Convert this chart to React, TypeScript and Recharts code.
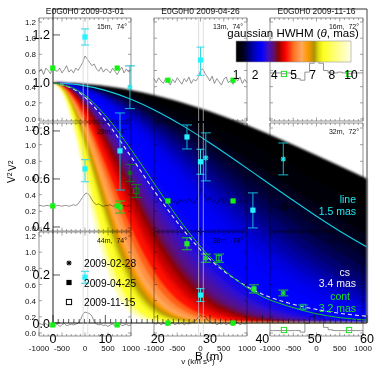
import { ComposedChart, Area, Line, Scatter, ErrorBar, XAxis, YAxis, ReferenceLine, ReferenceArea } from 'recharts';

const WIDTH = 382;
const HEIGHT = 372;
const FONT = '"Liberation Sans", Arial, sans-serif';

// baselines (m) shared by every gaussian curve of the colour map
const MAP_B = [0, 2, 4, 6, 8, 10, 12, 14, 16, 18, 20, 23, 26, 30, 35, 40, 45, 50, 55, 60];

const HWHM_1_0 = [1, 0.999, 0.998, 0.995, 0.991, 0.986, 0.98, 0.973, 0.964, 0.955, 0.945, 0.928, 0.908, 0.88, 0.84, 0.797, 0.75, 0.701, 0.651, 0.6];
const HWHM_1_2 = [1, 0.999, 0.997, 0.993, 0.987, 0.98, 0.971, 0.961, 0.949, 0.936, 0.921, 0.897, 0.871, 0.832, 0.778, 0.721, 0.661, 0.6, 0.539, 0.479];
const HWHM_1_4 = [1, 0.999, 0.996, 0.99, 0.982, 0.973, 0.961, 0.947, 0.931, 0.914, 0.895, 0.863, 0.829, 0.778, 0.711, 0.641, 0.569, 0.499, 0.431, 0.367];
const HWHM_1_5 = [1, 0.999, 0.995, 0.989, 0.98, 0.969, 0.955, 0.939, 0.921, 0.902, 0.88, 0.845, 0.806, 0.75, 0.676, 0.6, 0.524, 0.45, 0.38, 0.317];
const HWHM_1_6 = [1, 0.999, 0.994, 0.987, 0.977, 0.964, 0.949, 0.931, 0.911, 0.889, 0.865, 0.825, 0.782, 0.721, 0.641, 0.559, 0.479, 0.403, 0.333, 0.27];
const HWHM_1_7 = [1, 0.998, 0.993, 0.985, 0.974, 0.96, 0.943, 0.923, 0.9, 0.875, 0.849, 0.805, 0.758, 0.691, 0.605, 0.519, 0.436, 0.358, 0.289, 0.228];
const HWHM_1_8 = [1, 0.998, 0.993, 0.984, 0.971, 0.955, 0.936, 0.914, 0.889, 0.861, 0.832, 0.784, 0.733, 0.661, 0.569, 0.479, 0.394, 0.317, 0.249, 0.191];
const HWHM_1_9 = [1, 0.998, 0.992, 0.982, 0.968, 0.95, 0.929, 0.904, 0.877, 0.847, 0.815, 0.762, 0.707, 0.63, 0.534, 0.44, 0.354, 0.278, 0.212, 0.158];
const HWHM_2_0 = [1, 0.998, 0.991, 0.98, 0.964, 0.945, 0.921, 0.895, 0.865, 0.832, 0.797, 0.74, 0.681, 0.6, 0.499, 0.403, 0.317, 0.242, 0.179, 0.129];
const HWHM_2_1 = [1, 0.997, 0.99, 0.978, 0.961, 0.939, 0.914, 0.885, 0.852, 0.816, 0.778, 0.718, 0.655, 0.569, 0.464, 0.367, 0.281, 0.209, 0.15, 0.105];
const HWHM_2_2 = [1, 0.997, 0.989, 0.976, 0.957, 0.934, 0.906, 0.874, 0.839, 0.8, 0.76, 0.695, 0.628, 0.539, 0.431, 0.333, 0.249, 0.179, 0.125, 0.084];
const HWHM_2_3 = [1, 0.997, 0.988, 0.973, 0.953, 0.928, 0.897, 0.863, 0.825, 0.784, 0.74, 0.672, 0.602, 0.509, 0.398, 0.301, 0.218, 0.153, 0.103, 0.067];
const HWHM_2_4 = [1, 0.997, 0.987, 0.971, 0.949, 0.921, 0.889, 0.852, 0.811, 0.767, 0.721, 0.649, 0.575, 0.479, 0.367, 0.27, 0.191, 0.129, 0.084, 0.053];
const HWHM_2_6 = [1, 0.996, 0.985, 0.966, 0.94, 0.908, 0.871, 0.829, 0.782, 0.733, 0.681, 0.602, 0.523, 0.422, 0.309, 0.215, 0.143, 0.091, 0.055, 0.032];
const HWHM_2_8 = [1, 0.996, 0.982, 0.961, 0.931, 0.895, 0.852, 0.804, 0.752, 0.697, 0.641, 0.555, 0.471, 0.367, 0.256, 0.169, 0.105, 0.062, 0.034, 0.018];
const HWHM_3_0 = [1, 0.995, 0.98, 0.955, 0.921, 0.88, 0.832, 0.778, 0.721, 0.661, 0.6, 0.509, 0.422, 0.317, 0.209, 0.129, 0.075, 0.041, 0.021, 0.01];
const HWHM_3_2 = [1, 0.994, 0.977, 0.949, 0.911, 0.865, 0.811, 0.752, 0.689, 0.624, 0.559, 0.463, 0.374, 0.27, 0.168, 0.098, 0.053, 0.026, 0.012, 0.005];
const HWHM_3_4 = [1, 0.993, 0.974, 0.943, 0.9, 0.849, 0.789, 0.725, 0.657, 0.587, 0.518, 0.42, 0.33, 0.228, 0.134, 0.072, 0.036, 0.016, 0.007, 0.003];
const HWHM_3_6 = [1, 0.993, 0.971, 0.936, 0.889, 0.832, 0.767, 0.697, 0.624, 0.551, 0.479, 0.378, 0.288, 0.191, 0.105, 0.053, 0.024, 0.01, 0.004, 0.001];
const HWHM_3_8 = [1, 0.992, 0.968, 0.929, 0.877, 0.815, 0.744, 0.669, 0.592, 0.515, 0.44, 0.338, 0.25, 0.158, 0.081, 0.038, 0.016, 0.006, 0.002, 0.001];
const HWHM_4_0 = [1, 0.991, 0.964, 0.921, 0.865, 0.797, 0.721, 0.641, 0.559, 0.479, 0.403, 0.301, 0.215, 0.129, 0.062, 0.026, 0.01, 0.003, 0.001, 0];
const HWHM_4_15 = [1, 0.99, 0.962, 0.916, 0.855, 0.783, 0.703, 0.619, 0.535, 0.453, 0.376, 0.274, 0.192, 0.111, 0.05, 0.02, 0.007, 0.002, 0, 0];
const HWHM_4_3 = [1, 0.99, 0.959, 0.91, 0.845, 0.769, 0.685, 0.598, 0.511, 0.427, 0.35, 0.249, 0.169, 0.094, 0.04, 0.015, 0.005, 0.001, 0, 0];
const HWHM_4_45 = [1, 0.989, 0.956, 0.904, 0.835, 0.755, 0.667, 0.576, 0.487, 0.402, 0.325, 0.226, 0.149, 0.08, 0.032, 0.011, 0.003, 0.001, 0, 0];
const HWHM_4_6 = [1, 0.988, 0.953, 0.897, 0.825, 0.74, 0.649, 0.555, 0.463, 0.378, 0.301, 0.204, 0.131, 0.067, 0.025, 0.008, 0.002, 0.001, 0, 0];
const HWHM_4_8 = [1, 0.987, 0.949, 0.889, 0.811, 0.721, 0.624, 0.527, 0.433, 0.346, 0.27, 0.177, 0.109, 0.053, 0.018, 0.005, 0.001, 0, 0, 0];
const HWHM_5_0 = [1, 0.986, 0.945, 0.88, 0.797, 0.701, 0.6, 0.499, 0.403, 0.317, 0.242, 0.153, 0.091, 0.041, 0.013, 0.003, 0.001, 0, 0, 0];
const HWHM_5_4 = [1, 0.984, 0.936, 0.861, 0.767, 0.661, 0.551, 0.444, 0.346, 0.261, 0.191, 0.112, 0.061, 0.024, 0.006, 0.001, 0, 0, 0, 0];
const HWHM_5_8 = [1, 0.981, 0.926, 0.842, 0.737, 0.62, 0.503, 0.392, 0.294, 0.213, 0.148, 0.08, 0.04, 0.014, 0.003, 0, 0, 0, 0, 0];
const HWHM_6_2 = [1, 0.978, 0.916, 0.822, 0.705, 0.579, 0.456, 0.343, 0.247, 0.171, 0.113, 0.056, 0.025, 0.007, 0.001, 0, 0, 0, 0, 0];
const HWHM_6_6 = [1, 0.976, 0.906, 0.8, 0.673, 0.539, 0.41, 0.297, 0.205, 0.135, 0.084, 0.038, 0.015, 0.004, 0, 0, 0, 0, 0, 0];
const HWHM_6_8 = [1, 0.974, 0.9, 0.789, 0.657, 0.519, 0.388, 0.276, 0.186, 0.119, 0.072, 0.031, 0.012, 0.003, 0, 0, 0, 0, 0, 0];
const HWHM_7_0 = [1, 0.973, 0.895, 0.778, 0.641, 0.499, 0.367, 0.256, 0.168, 0.105, 0.062, 0.025, 0.009, 0.002, 0, 0, 0, 0, 0, 0];
const HWHM_7_25 = [1, 0.971, 0.887, 0.764, 0.62, 0.474, 0.341, 0.232, 0.148, 0.089, 0.051, 0.019, 0.006, 0.001, 0, 0, 0, 0, 0, 0];
const HWHM_7_5 = [1, 0.969, 0.88, 0.75, 0.6, 0.45, 0.317, 0.209, 0.129, 0.075, 0.041, 0.015, 0.005, 0.001, 0, 0, 0, 0, 0, 0];
const HWHM_7_75 = [1, 0.966, 0.872, 0.736, 0.579, 0.426, 0.293, 0.188, 0.113, 0.063, 0.033, 0.011, 0.003, 0, 0, 0, 0, 0, 0, 0];
const HWHM_8_0 = [1, 0.964, 0.865, 0.721, 0.559, 0.403, 0.27, 0.168, 0.098, 0.053, 0.026, 0.008, 0.002, 0, 0, 0, 0, 0, 0, 0];
const HWHM_9_0 = [1, 0.955, 0.832, 0.661, 0.479, 0.317, 0.191, 0.105, 0.053, 0.024, 0.01, 0.002, 0, 0, 0, 0, 0, 0, 0, 0];
const HWHM_10_0 = [1, 0.945, 0.797, 0.6, 0.403, 0.242, 0.129, 0.062, 0.026, 0.01, 0.003, 0.001, 0, 0, 0, 0, 0, 0, 0, 0];

const MAP_CURVES = [
  HWHM_1_0, HWHM_1_2, HWHM_1_4, HWHM_1_5, HWHM_1_6, HWHM_1_7, HWHM_1_8, HWHM_1_9, HWHM_2_0, HWHM_2_1,
  HWHM_2_2, HWHM_2_3, HWHM_2_4, HWHM_2_6, HWHM_2_8, HWHM_3_0, HWHM_3_2, HWHM_3_4, HWHM_3_6, HWHM_3_8,
  HWHM_4_0, HWHM_4_15, HWHM_4_3, HWHM_4_45, HWHM_4_6, HWHM_4_8, HWHM_5_0, HWHM_5_4, HWHM_5_8, HWHM_6_2,
  HWHM_6_6, HWHM_6_8, HWHM_7_0, HWHM_7_25, HWHM_7_5, HWHM_7_75, HWHM_8_0, HWHM_9_0, HWHM_10_0,
];
const MAP_COLORS = [
  '#000000', '#000008', '#00001a', '#000028', '#00003a', '#000055', '#000070', '#00008c', '#0000a8', '#0000c0',
  '#0000d8', '#0000e6', '#0000f4', '#0000ff', '#0000ff', '#0804f8', '#1808e8', '#3010d0', '#4410b0', '#541090',
  '#600f68', '#780838', '#900000', '#ae0000', '#cc0000', '#e80800', '#ff1000', '#ff6018', '#ff9040', '#ffa858',
  '#ff9a00', '#e09600', '#b89200', '#c8b808', '#e4e410', '#f4f420', '#ffff30', '#ffffa8', '#ffffff',
];

// fitted curves
const FIT_B = [0, 5, 10, 15, 20, 25, 30, 35, 40, 45, 50, 55, 60];
const LINE_FIT = [1, 0.992, 0.969, 0.931, 0.88, 0.819, 0.75, 0.676, 0.6, 0.524, 0.45, 0.38, 0.316];
const CS_FIT = [1, 0.96, 0.845, 0.69, 0.53, 0.385, 0.265, 0.18, 0.12, 0.083, 0.058, 0.04, 0.028];
const CONT_FIT = [1, 0.965, 0.865, 0.72, 0.56, 0.405, 0.275, 0.18, 0.11, 0.07, 0.04, 0.022, 0.012];

// V2 points: star = 2009-02-28, filled = 2009-04-25, open = 2009-11-15
const LINE_STAR_B = [14.7, 29.2, 44];
const LINE_STAR_V = [0.983, 0.688, 0.683];
const LINE_STAR_ERR = [[0.09, 0.088], [0.096, 0.104], [0.066, 0.067]];
const LINE_FILLED_B = [12.8, 25.6, 38.2];
const LINE_FILLED_V = [0.717, 0.775, 0.47];
const LINE_FILLED_ERR = [[0.163, 0.158], [0.05, 0.05], [0.074, 0.072]];
const CONT_STAR_B = [29.2, 44];
const CONT_STAR_V = [0.27, 0.125];
const CONT_STAR_ERR = [[0.017, 0.017], [0.012, 0.012]];
const CONT_STAR_DIM_B = [14.7];
const CONT_STAR_DIM_V = [0.625];
const CONT_STAR_DIM_ERR = [[0.035, 0.035]];
const CONT_FILLED_B = [12.8, 25.6, 38.4];
const CONT_FILLED_V = [0.483, 0.33, 0.142];
const CONT_FILLED_ERR = [[0.025, 0.025], [0.025, 0.025], [0.017, 0.017]];
const CONT_OPEN_B = [31.7];
const CONT_OPEN_V = [0.27];
const CONT_OPEN_ERR = [[0.017, 0.017]];
const CONT_OPEN_DIM_B = [15.9];
const CONT_OPEN_DIM_V = [0.55];
const CONT_OPEN_DIM_ERR = [[0.027, 0.027]];
const CONT_OPEN_TEAL_B = [47.8];
const CONT_OPEN_TEAL_V = [0.067];
const CONT_OPEN_TEAL_ERR = [[0.008, 0.008]];

// spectra of the small panels
const V_50 = [-1000, -950, -900, -850, -800, -750, -700, -650, -600, -550, -500, -450, -400, -350, -300, -250, -200, -150, -100, -50, 0, 50, 100, 150, 200, 250, 300, 350, 400, 450, 500, 550, 600, 650, 700, 750, 800, 850, 900, 950, 1000];
const V_100 = [-1000, -900, -800, -700, -600, -500, -400, -300, -200, -100, 0, 100, 200, 300, 400, 500, 600, 700, 800, 900, 1000];
const SPEC_15M = [0.58, 0.62, 0.55, 0.63, 0.6, 0.56, 0.64, 0.6, 0.59, 0.63, 0.57, 0.61, 0.66, 0.58, 0.61, 0.57, 0.63, 0.6, 0.65, 0.7, 0.78, 0.74, 0.7, 0.66, 0.68, 0.62, 0.59, 0.64, 0.58, 0.62, 0.6, 0.57, 0.63, 0.59, 0.55, 0.6, 0.64, 0.57, 0.62, 0.58, 0.61];
const SPEC_13M = [0.5, 0.45, 0.51, 0.47, 0.44, 0.5, 0.46, 0.42, 0.49, 0.45, 0.51, 0.47, 0.43, 0.5, 0.46, 0.52, 0.44, 0.49, 0.47, 0.51, 0.6, 0.62, 0.56, 0.52, 0.47, 0.53, 0.44, 0.5, 0.46, 0.42, 0.49, 0.52, 0.45, 0.48, 0.43, 0.5, 0.47, 0.52, 0.44, 0.49, 0.45];
const SPEC_16M = [0.57, 0.57, 0.57, 0.56, 0.57, 0.56, 0.5, 0.48, 0.58, 0.69, 0.75, 0.69, 0.6, 0.57, 0.57, 0.58, 0.57, 0.56, 0.57, 0.57, 0.57];
const SPEC_29M = [0.27, 0.27, 0.26, 0.27, 0.27, 0.26, 0.27, 0.26, 0.27, 0.27, 0.26, 0.27, 0.27, 0.26, 0.27, 0.28, 0.27, 0.29, 0.33, 0.37, 0.41, 0.42, 0.39, 0.34, 0.3, 0.28, 0.29, 0.27, 0.26, 0.27, 0.27, 0.28, 0.26, 0.27, 0.27, 0.26, 0.27, 0.27, 0.26, 0.27, 0.26];
const SPEC_26M = [0.33, 0.3, 0.35, 0.32, 0.29, 0.34, 0.31, 0.36, 0.3, 0.33, 0.28, 0.35, 0.31, 0.34, 0.3, 0.36, 0.32, 0.29, 0.34, 0.38, 0.47, 0.44, 0.38, 0.32, 0.38, 0.31, 0.34, 0.29, 0.33, 0.36, 0.3, 0.34, 0.31, 0.28, 0.35, 0.32, 0.3, 0.34, 0.29, 0.33, 0.31];
const SPEC_32M = [0.26, 0.26, 0.25, 0.26, 0.25, 0.26, 0.24, 0.23, 0.28, 0.34, 0.38, 0.33, 0.28, 0.25, 0.26, 0.25, 0.26, 0.25, 0.26, 0.25, 0.26];
const SPEC_44M = [0.12, 0.11, 0.1, 0.12, 0.09, 0.08, 0.1, 0.09, 0.11, 0.08, 0.1, 0.12, 0.09, 0.1, 0.11, 0.1, 0.11, 0.12, 0.16, 0.23, 0.26, 0.25, 0.24, 0.21, 0.14, 0.11, 0.1, 0.11, 0.09, 0.1, 0.08, 0.1, 0.11, 0.09, 0.1, 0.12, 0.09, 0.1, 0.11, 0.09, 0.1];
const SPEC_38M = [0.12, 0.11, 0.13, 0.1, 0.12, 0.11, 0.09, 0.12, 0.13, 0.1, 0.12, 0.11, 0.13, 0.1, 0.12, 0.11, 0.13, 0.14, 0.16, 0.19, 0.22, 0.2, 0.21, 0.16, 0.14, 0.12, 0.13, 0.1, 0.12, 0.11, 0.13, 0.1, 0.12, 0.11, 0.09, 0.12, 0.13, 0.1, 0.12, 0.11, 0.12];
const SPEC_48M = [0.03, 0.03, 0.03, 0.03, 0.03, 0.03, 0.03, 0.01, 0.12, 0.2, 0.25, 0.2, 0.07, 0.04, 0.03, 0.03, 0.03, 0.03, 0.03, 0.03, 0.03];

const COL_EDGES = [[39, 131], [154, 247], [270, 363]];
const ROW_EDGES = [[18, 121], [123, 231], [232, 336]];
const ROW_DOMAINS = [[-0.025, 1.25], [-0.036, 1.26], [-0.037, 1.25]];
const COL_DATES = ['E0G0H0 2009-03-01', 'E0G0H0 2009-04-26', 'E0G0H0 2009-11-16'];

const PANELS = [
  { row: 0, col: 0, label: '15m,  74°', v: V_50, spec: SPEC_15M, green: 0.63, cyan: 1.015, cyanErr: [0.1, 0.1] },
  { row: 0, col: 1, label: '13m,  74°', v: V_50, spec: SPEC_13M, green: 0.48, cyan: 0.73, cyanErr: [0.19, 0.16] },
  { row: 0, col: 2, label: '16m,  72°', v: V_100, spec: SPEC_16M, green: 0.557 },
  { row: 1, col: 0, label: '29m,  74°', v: V_50, spec: SPEC_29M, green: 0.265, cyan: 0.71, cyanErr: [0.155, 0.11] },
  { row: 1, col: 1, label: '26m,  74°', v: V_50, spec: SPEC_26M, green: 0.325, cyan: 0.795, cyanErr: [0.15, 0.15] },
  { row: 1, col: 2, label: '32m,  72°', v: V_100, spec: SPEC_32M, green: 0.253 },
  { row: 2, col: 0, label: '44m,  74°', v: V_50, spec: SPEC_44M, green: 0.1, cyan: 0.69, cyanErr: [0.074, 0.074] },
  { row: 2, col: 1, label: '38m,  74°', v: V_50, spec: SPEC_38M, green: 0.123, cyan: 0.47, cyanErr: [0.08, 0.08] },
  { row: 2, col: 2, label: '48m,  72°', v: V_100, spec: SPEC_48M, green: 0.037 },
];

const V_TICKS = [-1000, -900, -800, -700, -600, -500, -400, -300, -200, -100, 0, 100, 200, 300, 400, 500, 600, 700, 800, 900, 1000];
const PANEL_Y_TICKS = [0, 0.2, 0.4, 0.6, 0.8, 1, 1.2];
const GREEN_V = [-700, 700];

const MAIN_X_TICKS = [0, 1, 2, 3, 4, 5, 6, 7, 8, 9, 10, 11, 12, 13, 14, 15, 16, 17, 18, 19, 20, 21, 22, 23, 24, 25, 26, 27, 28, 29, 30, 31, 32, 33, 34, 35, 36, 37, 38, 39, 40, 41, 42, 43, 44, 45, 46, 47, 48, 49, 50, 51, 52, 53, 54, 55, 56, 57, 58, 59, 60];
const MAIN_Y_TICKS = [0, 0.2, 0.4, 0.6, 0.8, 1, 1.2];

const COLORBAR_TICKS = [1, 2.5, 4, 5.5, 7, 8.5, 10];
const COLORBAR_LABELS = ['1', '2', '4', '5', '7', '8', '10'];
const COLORBAR_Y = [0, 1, 0, 1, 0, 1, 0];
const COLORBAR_STOPS = [
  [0, '#000000'], [0.06, '#000018'], [0.15, '#0000b0'], [0.22, '#0000ff'], [0.28, '#4010c0'], [0.33, '#60106a'],
  [0.37, '#900000'], [0.43, '#ff0000'], [0.5, '#ff7020'], [0.57, '#ffa860'], [0.62, '#ff9a00'], [0.68, '#b09000'],
  [0.72, '#e0e010'], [0.76, '#ffff20'], [0.85, '#ffff70'], [1, '#ffffe8'],
];

const LEGEND_DATES = ['2009-02-28', '2009-04-25', '2009-11-15'];
const LEGEND_KINDS = ['star', 'filled', 'open'];

// visible axes take 1px each (an axis of size 0 is not drawn), so their margin is 1px less
const MAIN_MARGIN = { top: 9, left: 53, right: 15, bottom: 49 };
const MAIN_AXIS_MARGIN = { top: 8, left: 52, right: 14, bottom: 48 };
const X_DOMAIN = [0, 60];
const Y_DOMAIN = [0, 1.308];

const toRows = (xs: number[], ys: number[], errs?: number[][]) =>
  xs.map((x, i) => ({ x, y: ys[i], err: errs ? errs[i] : undefined }));

const mapRows = MAP_B.map((x, i) => {
  const row: Record<string, number> = { x };
  MAP_CURVES.forEach((curve, c) => {
    row[`t${c}`] = curve[i];
  });
  return row;
});

const MAIN_POINTS = [
  { kind: 'star', color: '#24e8f0', bar: '#12b8c8', rows: toRows(LINE_STAR_B, LINE_STAR_V, LINE_STAR_ERR) },
  { kind: 'filled', color: '#24f0ff', bar: '#12b8d8', rows: toRows(LINE_FILLED_B, LINE_FILLED_V, LINE_FILLED_ERR) },
  { kind: 'star', color: '#22e022', bar: '#22c822', rows: toRows(CONT_STAR_B, CONT_STAR_V, CONT_STAR_ERR) },
  { kind: 'star', color: '#147014', bar: '#147014', rows: toRows(CONT_STAR_DIM_B, CONT_STAR_DIM_V, CONT_STAR_DIM_ERR) },
  { kind: 'filled', color: '#22ee22', bar: '#22c822', rows: toRows(CONT_FILLED_B, CONT_FILLED_V, CONT_FILLED_ERR) },
  { kind: 'open', color: '#22d022', bar: '#22c822', rows: toRows(CONT_OPEN_B, CONT_OPEN_V, CONT_OPEN_ERR) },
  { kind: 'open', color: '#167a16', bar: '#167a16', rows: toRows(CONT_OPEN_DIM_B, CONT_OPEN_DIM_V, CONT_OPEN_DIM_ERR) },
  { kind: 'open', color: '#18a080', bar: '#18a080', rows: toRows(CONT_OPEN_TEAL_B, CONT_OPEN_TEAL_V, CONT_OPEN_TEAL_ERR) },
];

function Marker({ kind, color, cx, cy, r = 2.6 }: { kind: string; color: string; cx: number; cy: number; r?: number }) {
  if (kind === 'filled') return <rect x={cx - r} y={cy - r} width={r * 2} height={r * 2} fill={color} />;
  if (kind === 'open') return <rect x={cx - r} y={cy - r} width={r * 2} height={r * 2} fill="none" stroke={color} strokeWidth={1} />;
  return (
    <g stroke={color} strokeWidth={1.1}>
      <line x1={cx - r} x2={cx + r} y1={cy} y2={cy} />
      <line x1={cx} x2={cx} y1={cy - r} y2={cy + r} />
      <line x1={cx - r * 0.75} x2={cx + r * 0.75} y1={cy - r * 0.75} y2={cy + r * 0.75} />
      <line x1={cx - r * 0.75} x2={cx + r * 0.75} y1={cy + r * 0.75} y2={cy - r * 0.75} />
    </g>
  );
}

const markerShape = (kind: string, color: string) => (props: any) =>
  <Marker kind={kind} color={color} cx={props.cx} cy={props.cy} />;

// small panels ------------------------------------------------------------

const PAD_L = 26;
const PAD_R = 16;
const PAD_T = 2;
const PAD_B = 22;

function panelBox(row: number, col: number) {
  const [l, r] = COL_EDGES[col];
  const [t, b] = ROW_EDGES[row];
  return {
    style: { position: 'absolute' as const, left: l - PAD_L, top: t - PAD_T },
    width: r - l + PAD_L + PAD_R,
    height: b - t + PAD_T + PAD_B,
  };
}

function PanelBase({ panel }: { panel: (typeof PANELS)[number] }) {
  const { row, col } = panel;
  const box = panelBox(row, col);
  const yDomain = ROW_DOMAINS[row];
  const showX = row === 2;

  const xTick = (dir: number, labels: boolean) => (p: any) => {
    const major = p.payload.value % 500 === 0;
    return (
      <g>
        <line x1={p.x} x2={p.x} y1={p.y} y2={p.y - dir * (major ? 3.5 : 2)} stroke="#666" strokeWidth={0.6} />
        {labels && major ? (
          <text x={p.x} y={p.y + 14.5} textAnchor="middle" fontSize={8} fontFamily={FONT} fill="#111">
            {p.payload.value}
          </text>
        ) : null}
      </g>
    );
  };
  const yTick = (dir: number) => (p: any) => (
    <line x1={p.x} x2={p.x + dir * 3} y1={p.y} y2={p.y} stroke="#666" strokeWidth={0.6} />
  );
  const shared = { interval: 0, tickSize: 0, tickMargin: 0, tickLine: false, stroke: '#666', strokeWidth: 0.7 };

  return (
    <ComposedChart
      {...box}
      data={toRows(panel.v, panel.spec)}
      margin={{ top: PAD_T - 1, left: PAD_L - 1, right: PAD_R - 1, bottom: PAD_B - 1 }}
    >
      <XAxis {...shared} dataKey="x" type="number" domain={[-1000, 1000]} ticks={V_TICKS} height={1} tick={xTick(1, showX)} />
      <XAxis {...shared} xAxisId="top" orientation="top" dataKey="x" type="number" domain={[-1000, 1000]} ticks={V_TICKS} height={1} tick={xTick(-1, false)} />
      <YAxis {...shared} dataKey="y" type="number" domain={yDomain} ticks={PANEL_Y_TICKS} width={1} tick={yTick(1)} allowDataOverflow />
      <YAxis {...shared} yAxisId="right" orientation="right" type="number" domain={yDomain} ticks={PANEL_Y_TICKS} width={1} tick={yTick(-1)} allowDataOverflow />
      <Line dataKey="y" type={col === 2 ? 'step' : 'linear'} stroke="#777" strokeWidth={0.8} dot={false} activeDot={false} isAnimationActive={false} />
      {col === 2 ? (
        <Scatter data={toRows(GREEN_V, [panel.green, panel.green])} dataKey="y" isAnimationActive={false} shape={markerShape('open', '#24e024')} />
      ) : null}
    </ComposedChart>
  );
}

function PanelLabel({ panel }: { panel: (typeof PANELS)[number] }) {
  const right = COL_EDGES[panel.col][1] - 4;
  const y = ROW_EDGES[panel.row][0] + 11;
  return (
    <svg width={WIDTH} height={HEIGHT} style={{ position: 'absolute', left: 0, top: 0 }}>
      <text x={right} y={y} textAnchor="end" fontSize={7} fontFamily={FONT} fill="#111" xmlSpace="preserve">
        {panel.label}
      </text>
    </svg>
  );
}

function PanelTop({ panel }: { panel: (typeof PANELS)[number] }) {
  const { row, col } = panel;
  const box = panelBox(row, col);
  const yDomain = ROW_DOMAINS[row];
  const hasCyan = panel.cyan !== undefined;
  return (
    <ComposedChart {...box} margin={{ top: PAD_T, left: PAD_L, right: PAD_R, bottom: PAD_B }}>
      <XAxis hide dataKey="x" type="number" domain={[-1000, 1000]} />
      <YAxis hide dataKey="y" type="number" domain={yDomain} allowDataOverflow />
      {col < 2 ? <ReferenceLine x={-40} stroke="#cfcfcf" strokeOpacity={0.75} strokeWidth={0.9} /> : null}
      {col < 2 ? <ReferenceLine x={60} stroke="#cfcfcf" strokeOpacity={0.75} strokeWidth={0.9} /> : null}
      {col < 2 ? (
        <Scatter data={toRows(GREEN_V, [panel.green, panel.green])} dataKey="y" isAnimationActive={false} shape={markerShape('filled', '#14f014')} />
      ) : null}
      {hasCyan ? (
        <Scatter data={toRows([0], [panel.cyan as number], [panel.cyanErr as number[]])} dataKey="y" isAnimationActive={false} shape={markerShape('filled', '#24f4ff')}>
          <ErrorBar dataKey="err" direction="y" width={4} stroke="#30d8e8" strokeWidth={1} isAnimationActive={false} />
        </Scatter>
      ) : null}
    </ComposedChart>
  );
}

// main plot ---------------------------------------------------------------

function ColorMap() {
  return (
    <div style={{ position: 'absolute', left: 0, top: 0, mixBlendMode: 'multiply', filter: 'blur(0.8px)' }}>
      <ComposedChart width={WIDTH} height={HEIGHT} data={mapRows} margin={MAIN_MARGIN}>
        <XAxis hide dataKey="x" type="number" domain={X_DOMAIN} />
        <YAxis hide type="number" domain={Y_DOMAIN} allowDataOverflow />
        {MAP_CURVES.map((_curve, c) => (
          <Area
            key={c}
            dataKey={`t${c}`}
            type="monotone"
            fill={MAP_COLORS[c]}
            fillOpacity={1}
            stroke={MAP_COLORS[c]}
            strokeWidth={0.5}
            dot={false}
            activeDot={false}
            isAnimationActive={false}
          />
        ))}
      </ComposedChart>
    </div>
  );
}

const mainXTick = (p: any) => {
  const major = p.payload.value % 10 === 0;
  return (
    <g>
      <line x1={p.x} x2={p.x} y1={p.y} y2={p.y - (major ? 8 : 4)} stroke="#111" strokeWidth={0.7} />
      {major ? (
        <text x={p.x} y={p.y + 20} textAnchor="middle" fontSize={12.5} fontFamily={FONT} fill="#000">
          {p.payload.value}
        </text>
      ) : null}
    </g>
  );
};
const mainTopTick = (p: any) => {
  const major = p.payload.value % 10 === 0;
  return <line x1={p.x} x2={p.x} y1={p.y} y2={p.y + (major ? 8 : 4)} stroke="#333" strokeWidth={0.6} />;
};
const mainYTick = (p: any) => (
  <g>
    <line x1={p.x} x2={p.x + 7} y1={p.y} y2={p.y} stroke="#111" strokeWidth={0.7} />
    <text x={p.x - 3} y={p.y + 4.5} textAnchor="end" fontSize={12.5} fontFamily={FONT} fill="#000">
      {p.payload.value.toFixed(1)}
    </text>
  </g>
);

function MainOverlay() {
  const shared = { interval: 0, tickSize: 0, tickMargin: 0, tickLine: false };
  return (
    <ComposedChart width={WIDTH} height={HEIGHT} margin={MAIN_AXIS_MARGIN} style={{ position: 'absolute', left: 0, top: 0 }}>
      <XAxis {...shared} dataKey="x" type="number" domain={X_DOMAIN} ticks={MAIN_X_TICKS} height={1} stroke="#111" tick={mainXTick} />
      <XAxis {...shared} xAxisId="top" orientation="top" dataKey="x" type="number" domain={X_DOMAIN} ticks={MAIN_X_TICKS} height={1} stroke="#333" tick={mainTopTick} />
      <YAxis {...shared} dataKey="y" type="number" domain={Y_DOMAIN} ticks={MAIN_Y_TICKS} width={1} stroke="#222" tick={mainYTick} allowDataOverflow />
      <YAxis yAxisId="right" orientation="right" type="number" domain={Y_DOMAIN} width={1} tick={false} tickLine={false} stroke="#444" allowDataOverflow />
      <Line data={toRows(FIT_B, LINE_FIT)} dataKey="y" type="monotone" stroke="#10d0e0" strokeWidth={1.1} dot={false} activeDot={false} isAnimationActive={false} />
      <Line data={toRows(FIT_B, CS_FIT)} dataKey="y" type="monotone" stroke="#e8e8f4" strokeWidth={1.1} strokeDasharray="4 3" dot={false} activeDot={false} isAnimationActive={false} />
      <Line data={toRows(FIT_B, CONT_FIT)} dataKey="y" type="monotone" stroke="#14c030" strokeWidth={1} dot={false} activeDot={false} isAnimationActive={false} />
      {MAIN_POINTS.map((s, i) => (
        <Scatter key={i} data={s.rows} dataKey="y" isAnimationActive={false} shape={markerShape(s.kind, s.color)}>
          <ErrorBar dataKey="err" direction="y" width={5} stroke={s.bar} strokeWidth={1} isAnimationActive={false} />
        </Scatter>
      ))}
    </ComposedChart>
  );
}

function ColorBar() {
  return (
    <ComposedChart
      width={135}
      height={48}
      data={toRows(COLORBAR_TICKS, COLORBAR_Y)}
      margin={{ top: 1, left: 10, right: 10, bottom: 25 }}
      style={{ position: 'absolute', left: 226, top: 40 }}
    >
      <defs>
        <linearGradient id="cbar" x1="0" x2="1" y1="0" y2="0">
          {COLORBAR_STOPS.map(([o, c]) => (
            <stop key={o as number} offset={o as number} stopColor={c as string} />
          ))}
        </linearGradient>
      </defs>
      <XAxis
        type="number"
        dataKey="x"
        domain={[1, 10]}
        ticks={COLORBAR_TICKS}
        interval={0}
        height={1}
        axisLine={false}
        tickLine={false}
        tickSize={0}
        tickMargin={0}
        tick={(p: any) => (
          <text x={p.x} y={p.y + 17} textAnchor="middle" fontSize={12} fontFamily={FONT} fill="#000">
            {COLORBAR_LABELS[COLORBAR_TICKS.indexOf(p.payload.value)]}
          </text>
        )}
      />
      <YAxis hide dataKey="y" type="number" domain={[0, 1]} />
      <Line dataKey="y" stroke="none" dot={false} activeDot={false} isAnimationActive={false} />
      <ReferenceArea x1={1} x2={10} y1={0} y2={1} fill="url(#cbar)" fillOpacity={1} stroke="#999" strokeWidth={0.6} />
    </ComposedChart>
  );
}

function Annotations() {
  const t = { fontFamily: FONT };
  const left = COL_EDGES[0][0];
  return (
    <svg width={WIDTH} height={HEIGHT} style={{ position: 'absolute', left: 0, top: 0, pointerEvents: 'none' }}>
      {COL_EDGES.map(([l, r], i) => (
        <text key={i} {...t} x={(l + r) / 2} y={13.5} textAnchor="middle" fontSize={8.5} fill="#111">
          {COL_DATES[i]}
        </text>
      ))}
      {ROW_EDGES.map(([top, bottom], r) => {
        const [d0, d1] = ROW_DOMAINS[r];
        return PANEL_Y_TICKS.map((v) => (
          <text key={`${r}-${v}`} {...t} x={left - 3} y={top + ((d1 - v) / (d1 - d0)) * (bottom - top) + 3} textAnchor="end" fontSize={8} fill="#111">
            {v.toFixed(1)}
          </text>
        ));
      })}
      <text {...t} x={293} y={37} textAnchor="middle" fontSize={11.5} fill="#000">
        gaussian HWHM (<tspan fontStyle="italic">θ</tspan>, mas)
      </text>
      {LEGEND_DATES.map((d, i) => (
        <g key={d}>
          <Marker kind={LEGEND_KINDS[i]} color="#000" cx={69} cy={263 + i * 19.5} />
          <text {...t} x={84} y={267 + i * 19.5} fontSize={10.2} fill="#000">
            {d}
          </text>
        </g>
      ))}
      <text {...t} x={356} y={203} textAnchor="end" fontSize={10.5} fill="#20e8f0">line</text>
      <text {...t} x={356} y={215} textAnchor="end" fontSize={10.5} fill="#20e8f0">1.5 mas</text>
      <text {...t} x={350} y={276} textAnchor="end" fontSize={10.5} fill="#f4f4f4">cs</text>
      <text {...t} x={356} y={287} textAnchor="end" fontSize={10.5} fill="#f4f4f4">3.4 mas</text>
      <text {...t} x={350} y={300} textAnchor="end" fontSize={10.5} fill="#14e814">cont</text>
      <text {...t} x={356} y={312} textAnchor="end" fontSize={10.5} fill="#14e814">3.2 mas</text>
      <text {...t} x={209} y={360} textAnchor="middle" fontSize={11.5} fill="#000">B (m)</text>
      <text {...t} x={198} y={364} textAnchor="middle" fontSize={8} fill="#111">
        v (km s<tspan dy={-3} fontSize={5.5}>-1</tspan><tspan dy={3}>)</tspan>
      </text>
      <text {...t} transform="translate(15,183) rotate(-90)" fontSize={10} fill="#000">
        V<tspan dy={-3} fontSize={7}>2</tspan>
      </text>
      <text {...t} transform="translate(16,171) rotate(-90)" fontSize={10} fill="#000">
        V<tspan dy={-3} fontSize={7}>2</tspan>
      </text>
    </svg>
  );
}

export default function App() {
  return (
    <div style={{ position: 'absolute', left: 0, top: 0, width: WIDTH, height: HEIGHT, background: '#fff', overflow: 'hidden', isolation: 'isolate' }}>
      {PANELS.map((p) => (
        <div key={p.label} style={{ position: 'absolute', left: 0, top: 0 }}>
          <PanelBase panel={p} />
          <PanelLabel panel={p} />
        </div>
      ))}
      <ColorMap />
      <MainOverlay />
      {PANELS.map((p) => (
        <PanelTop key={p.label} panel={p} />
      ))}
      <ColorBar />
      <Annotations />
    </div>
  );
}
